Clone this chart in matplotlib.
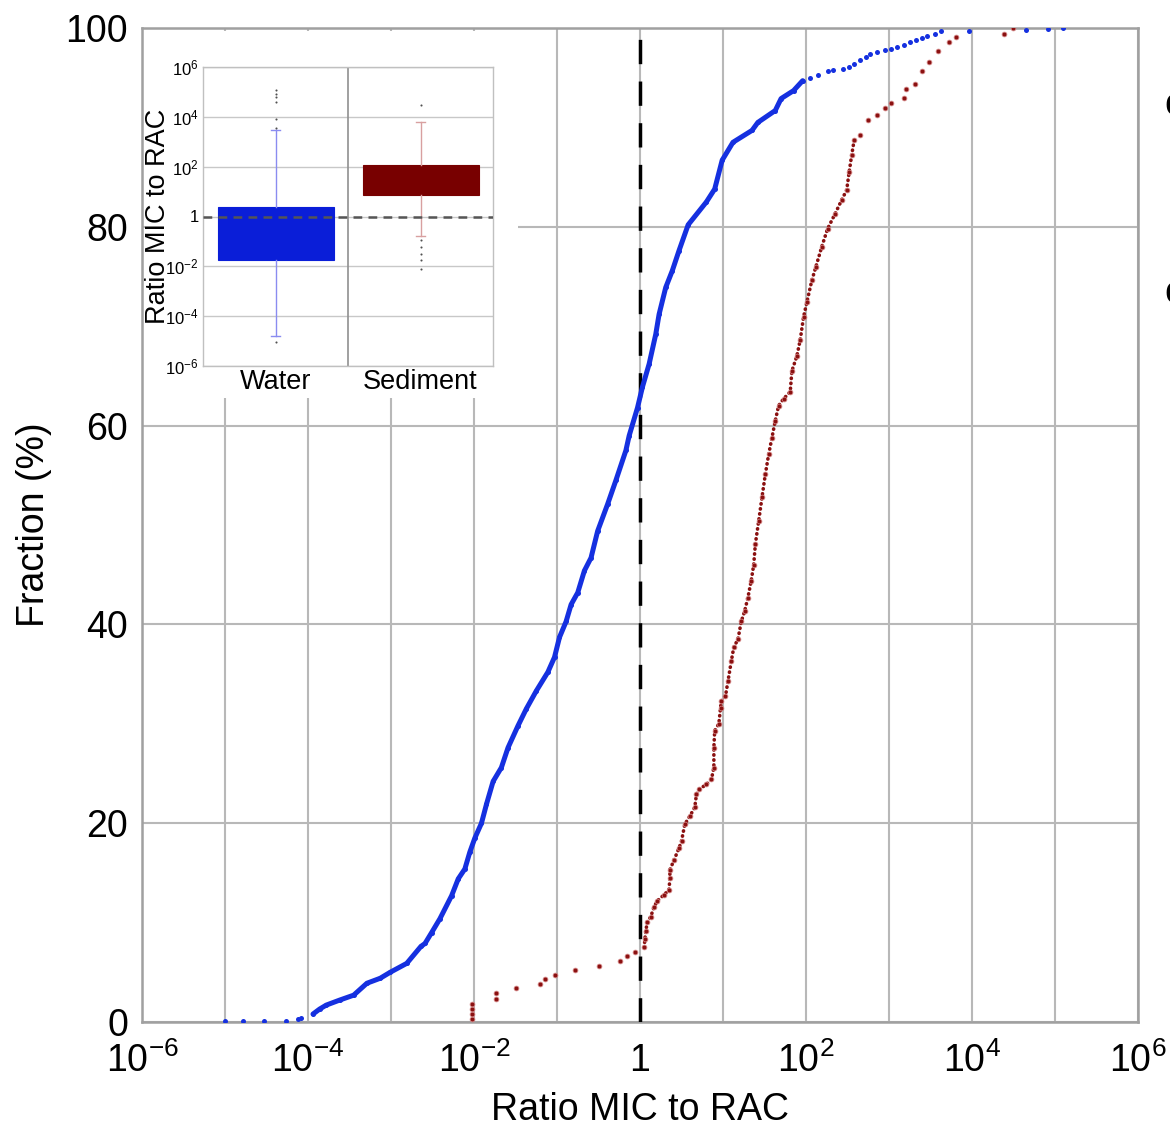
import numpy as np
import matplotlib
matplotlib.use('Agg')
from matplotlib import pyplot as plt
from matplotlib.patches import Rectangle

plt.rcParams['font.family'] = ['Liberation Sans', 'DejaVu Sans']
plt.rcParams['mathtext.fontset'] = 'custom'
plt.rcParams['mathtext.rm'] = 'Liberation Sans'
plt.rcParams['mathtext.it'] = 'Liberation Sans:italic'

# ---- cumulative distributions (log10 ratio, fraction %) ----
water_log = [-5.00, -4.78, -4.53, -4.27, -4.12, -4.08,
             -3.94, -3.86, -3.78, -3.62, -3.45, -3.29, -3.13, -3.01, -2.81, -2.64,
             -2.59, -2.51, -2.41, -2.27, -2.19, -2.11, -2.05, -1.99, -1.91, -1.85,
             -1.77, -1.67, -1.59, -1.47, -1.37, -1.25, -1.11, -1.03, -0.97, -0.89,
             -0.83, -0.75, -0.67, -0.59, -0.51, -0.39, -0.29, -0.17, -0.13, -0.03,
             0.03, 0.11, 0.19, 0.23, 0.31, 0.39, 0.47, 0.58, 0.80, 0.90, 0.99,
             1.12, 1.35, 1.42, 1.63, 1.70, 1.85, 1.96,
             2.05, 2.15, 2.26, 2.33, 2.45, 2.52, 2.58, 2.65, 2.72, 2.77, 2.85,
             2.95, 3.03, 3.10, 3.18, 3.25, 3.32, 3.40, 3.46, 3.55, 3.63,
             3.96, 4.65, 4.92, 5.10]
water_pct = [0.1, 0.1, 0.1, 0.15, 0.3, 0.45,
             0.8, 1.3, 1.7, 2.2, 2.7, 3.9, 4.4, 5.0, 5.9, 7.6,
             7.9, 9.0, 10.4, 12.7, 14.4, 15.4, 17.1, 18.5, 20.0, 21.9,
             24.2, 25.6, 27.6, 29.8, 31.5, 33.3, 35.2, 36.7, 38.7, 40.3,
             42.0, 43.2, 45.4, 46.7, 49.4, 52.1, 54.5, 57.5, 59.0, 61.8,
             63.9, 66.2, 69.2, 71.2, 73.9, 75.6, 77.6, 80.2, 82.5, 83.8, 86.7,
             88.5, 89.7, 90.5, 91.7, 92.9, 93.7, 94.7,
             95.0, 95.3, 95.7, 95.8, 95.9, 96.1, 96.4, 96.8, 97.1, 97.4, 97.6,
             97.8, 97.9, 98.1, 98.3, 98.6, 98.8, 99.0, 99.2, 99.4, 99.7,
             99.7, 99.8, 99.9, 100.0]

sed_log = [-2.03, -2.03, -2.03, -2.03, -1.74, -1.74, -1.50, -1.20, -1.14, -1.02,
           -0.78, -0.50, -0.24, -0.16, -0.06,
           0.05, 0.06, 0.07, 0.09, 0.13, 0.17, 0.21, 0.29, 0.35, 0.36, 0.36,
           0.41, 0.47, 0.50, 0.54, 0.60, 0.66, 0.68, 0.71, 0.80, 0.86, 0.89,
           0.89, 0.90, 0.95, 0.97, 0.98, 1.03, 1.06, 1.10, 1.13, 1.18, 1.22,
           1.26, 1.30, 1.34, 1.37, 1.39, 1.43, 1.47, 1.51, 1.55, 1.59, 1.63,
           1.67, 1.73, 1.81, 1.83, 1.89, 1.93, 1.97, 2.01, 2.07, 2.12, 2.19,
           2.26, 2.35, 2.43, 2.49, 2.52, 2.55, 2.58,
           2.65, 2.75, 2.86, 2.95, 3.03, 3.18, 3.20, 3.31, 3.40, 3.48, 3.59,
           3.72, 3.81, 4.39, 4.49]
sed_pct = [0.3, 0.8, 1.3, 1.8, 2.3, 2.9, 3.4, 3.8, 4.3, 4.7,
           5.2, 5.6, 6.1, 6.6, 7.0,
           7.5, 8.4, 9.2, 10.1, 10.6, 11.6, 12.2, 12.8, 13.3, 14.5, 15.3,
           16.3, 17.5, 18.2, 19.9, 20.7, 21.6, 22.9, 23.4, 23.9, 24.4, 25.6,
           27.6, 29.3, 30.0, 31.6, 32.3, 32.8, 34.3, 36.3, 37.7, 38.5, 40.3,
           41.3, 42.7, 44.4, 46.0, 48.1, 50.4, 52.8, 55.1, 57.1, 58.8, 60.5,
           62.0, 62.7, 63.4, 65.5, 67.0, 68.6, 70.9, 72.4, 74.6, 76.0, 78.0,
           79.8, 81.3, 82.7, 83.7, 85.5, 87.2, 88.7,
           89.2, 90.7, 91.2, 92.0, 92.5, 93.0, 93.9, 94.4, 95.7, 96.6, 97.7,
           98.6, 99.1, 99.4, 100.0]

# ---- inset box plot stats (log10 of ratio) ----
box_names = ['Water', 'Sediment']
box_q1 = [-1.73, 0.88]
box_q3 = [0.39, 2.06]
box_whislo = [-4.79, -0.79]
box_whishi = [3.46, 3.79]
box_fliers = [[5.06, 4.93, 4.80, 4.60, 3.93, 3.57, -5.03],
              [4.46, -0.95, -1.22, -1.49, -1.75, -2.09]]

xtick_exp = list(range(-6, 7))
ytick_vals = [0, 20, 40, 60, 80, 100]
inset_exp = [-6, -4, -2, 0, 2, 4, 6]


def pow_label(e):
    if e == 0:
        return '1'
    return r'$\mathrm{10^{%d}}$' % e


fig = plt.figure(figsize=(11.70, 11.29), dpi=100)
ax = fig.add_axes([142/1170, 1-1022/1129, 996/1170, 994/1129])

blue = '#1530e0'
red = '#8a1010'

wx = 10.0**np.array(water_log)
wy = np.array(water_pct)
sx = 10.0**np.array(sed_log)
sy = np.array(sed_pct)

# water: dense middle as a thick line, tails as dots
dense_w = (np.array(water_log) > -3.95) & (np.array(water_log) < 1.97)
ax.plot(wx[dense_w], wy[dense_w], '-', color=blue, lw=3.6, solid_capstyle='round',
        solid_joinstyle='round', zorder=4)
ax.plot(wx, wy, 'o', color=blue, ms=3.6, mec='none', zorder=4)

# sediment: dotted look
dense_s = (np.array(sed_log) > 0.0) & (np.array(sed_log) < 2.6)
ax.plot(sx[dense_s], sy[dense_s], color=red, lw=2.6, linestyle=(0, (0.1, 1.3)),
        dash_capstyle='round', zorder=4)
ax.plot(sx, sy, 'o', color=red, ms=3.4, mec='#d08080', mew=0.6, zorder=4)

ax.axvline(1, color='k', lw=2.5, dashes=(7, 5), zorder=3)

ax.set_xscale('log')
ax.set_xlim(1e-6, 1e6)
ax.set_ylim(0, 100)
ax.set_xticks([10.0**e for e in xtick_exp],
              [pow_label(e) if e % 2 == 0 else '' for e in xtick_exp])
ax.minorticks_off()
ax.set_yticks(ytick_vals, [str(v) for v in ytick_vals])
ax.grid(True, color='#b8b8b8', lw=1.5)
ax.tick_params(length=0, labelsize=27, pad=10)
ax.tick_params(axis='x', pad=15)
for s in ax.spines.values():
    s.set_color('#a0a0a0')
    s.set_linewidth(1.8)
ax.set_xlabel('Ratio MIC to RAC', fontsize=27, labelpad=8)
ax.set_ylabel('Fraction (%)', fontsize=27, labelpad=10)

# white area behind the inset
ax.add_patch(Rectangle((0.003, 0.628), 0.3745, 0.369, transform=ax.transAxes,
                       facecolor='white', edgecolor='none', zorder=3))

# ---- inset ----
ax_in = fig.add_axes([203/1170, 1-366/1129, 290/1170, 299/1129])
ax_in.set_zorder(5)
stats = []
for i in range(2):
    stats.append({'med': box_q1[i], 'q1': box_q1[i], 'q3': box_q3[i],
                  'whislo': box_whislo[i], 'whishi': box_whishi[i],
                  'fliers': box_fliers[i], 'label': box_names[i]})
box_cols = ['#0a1ed8', '#780000']
wh_cols = ['#8a8cf0', '#d8a0a0']
for i in range(2):
    ax_in.bxp([stats[i]], positions=[i+1], widths=0.8, patch_artist=True,
              boxprops=dict(facecolor=box_cols[i], edgecolor=box_cols[i], lw=0.8),
              whiskerprops=dict(color=wh_cols[i], lw=1.0),
              capprops=dict(color=wh_cols[i], lw=1.0),
              medianprops=dict(lw=0),
              flierprops=dict(marker='.', ms=3, mfc='#505050', mec='none'),
              capwidths=0.06, zorder=3)
ax_in.axhline(0, color='#555555', lw=1.8, dashes=(3.5, 2.5), zorder=4)
ax_in.axvline(1.5, color='#909090', lw=1.2, zorder=2)
ax_in.set_xlim(0.5, 2.5)
ax_in.set_ylim(-6, 6)
ax_in.set_yticks(inset_exp, [pow_label(e) for e in inset_exp])
ax_in.set_xticks([1, 2], box_names)
ax_in.grid(True, axis='y', color='#c8c8c8', lw=1.0)
ax_in.tick_params(length=0)
ax_in.tick_params(axis='y', labelsize=12, pad=3)
ax_in.tick_params(axis='x', labelsize=19.5, pad=2)
for s in ax_in.spines.values():
    s.set_color('#c0c0c0')
    s.set_linewidth(1.0)
ax_in.set_ylabel('Ratio MIC to RAC', fontsize=19.5)
ax_in.yaxis.set_label_coords(-0.11, 0.5)

# cropped letters at the right edge
fig.text(1164/1170, 1-105/1129, 'c', fontsize=27, va='center', ha='left')
fig.text(1164/1170, 1-293/1129, 'c', fontsize=27, va='center', ha='left')

fig.savefig('out.png', dpi=100, facecolor='white')
